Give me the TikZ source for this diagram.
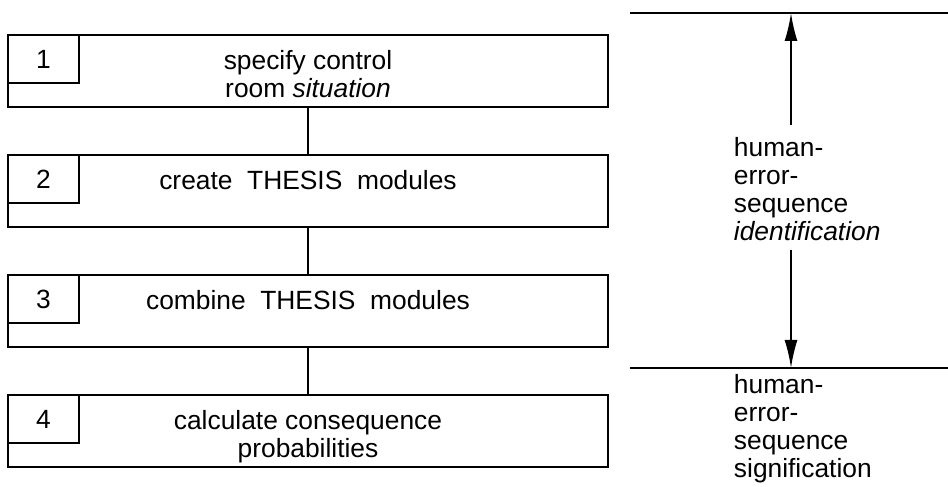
\documentclass[tikz,border=0pt]{standalone}
\usepackage{fontspec}
\setmainfont{Liberation Sans}
\usetikzlibrary{arrows.meta}

\tikzset{
  stage/.style={draw, minimum width=12cm, minimum height=1.44cm, inner sep=0pt},
  numbox/.style={draw, minimum width=1.42cm, minimum height=0.96cm, inner sep=0pt, anchor=north west},
  stagetext/.style={anchor=north, align=center, inner sep=0pt},
  sidetext/.style={align=left, inner sep=0pt, anchor=north west}
}

\begin{document}
\begin{tikzpicture}[>={Latex[length=0.56cm, width=0.26cm]}, font=\fontsize{15}{16.1}\selectfont, line width=1.1pt]
  \useasboundingbox (0,0) rectangle (18.96,9.74);

  % --- left column: the four stages ---
  \foreach \k/\txt in {1/{specify control\\room \textit{situation}},
                       2/{create\ \ THESIS\ \ modules},
                       3/{combine\ \ THESIS\ \ modules},
                       4/{calculate consequence\\probabilities}} {
    \node[stage] (s\k) at (6.16, {8.32-2.4*(\k-1)}) {};
    \node[numbox] (n\k) at (s\k.north west) {\k};
    \node[stagetext] (t\k) at ([yshift=-0.3cm]s\k.north) {\txt};
  }
  \draw (s1) -- (s2);
  \draw (s2) -- (s3);
  \draw (s3) -- (s4);

  % --- right column: the two phases ---
  \coordinate (topL) at (12.6,9.48);
  \coordinate (topR) at (18.96,9.48);
  \coordinate (botL) at (12.6,2.38);
  \coordinate (botR) at (18.96,2.38);
  \coordinate (topM) at (15.82,9.48);
  \coordinate (botM) at (15.82,2.38);
  \draw (topL) -- (topR);
  \draw (botL) -- (botR);

  \node[sidetext] (ident) at (14.66,7.02)
    {human-\\error-\\sequence\\\textit{identification}};
  \node[sidetext] (signif) at (14.66,2.28)
    {human-\\error-\\sequence\\signification};

  \draw[->] ([yshift=0.22cm]ident.north -| topM) -- (topM);
  \draw[->] ([yshift=-0.16cm]ident.south -| botM) -- (botM);
\end{tikzpicture}
\end{document}
